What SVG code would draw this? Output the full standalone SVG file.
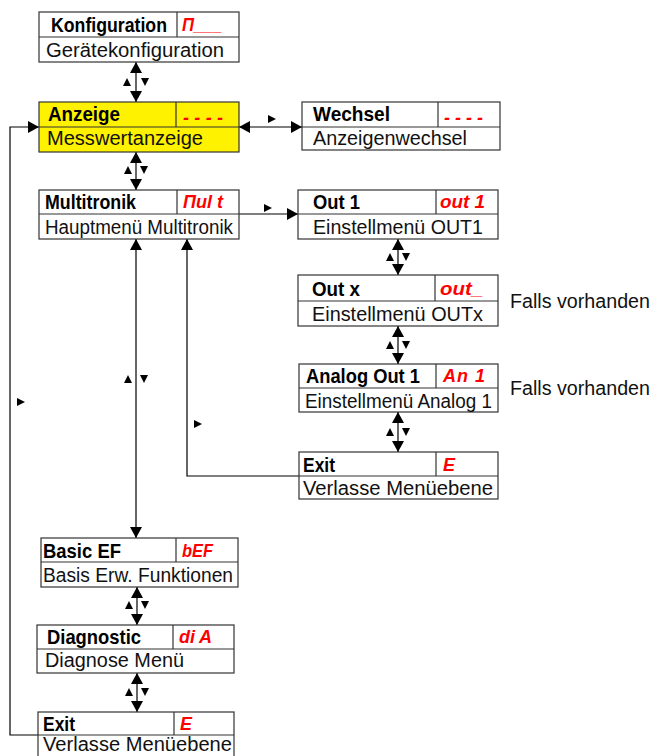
<svg xmlns="http://www.w3.org/2000/svg" xmlns:xlink="http://www.w3.org/1999/xlink" width="654" height="756" viewBox="0 0 654 756">
<style>
  .box{fill:#ffffff;stroke:#333333;stroke-width:1.2}
  .yel{fill:#fff200}
  .div{stroke:#333333;stroke-width:1.2;fill:none}
  .t{font-family:"Liberation Sans",Arial,sans-serif;font-weight:bold;font-size:20.5px;fill:#000}
  .s{font-family:"Liberation Sans",Arial,sans-serif;font-size:19.5px;fill:#111}
  .r{font-family:"Liberation Sans",Arial,sans-serif;font-weight:bold;font-style:italic;font-size:18px;fill:#ff0000}
  .n{font-family:"Liberation Sans",Arial,sans-serif;font-size:20px;fill:#111}
  .c{stroke:#000;stroke-width:1.2;fill:none}
  .tri{fill:#000}
</style>
<defs>
  <marker id="ah" viewBox="0 0 11 12" refX="11" refY="6" markerWidth="11" markerHeight="12" markerUnits="userSpaceOnUse" orient="auto-start-reverse">
    <path d="M0,0 L11,6 L0,12 z" fill="#000"/>
  </marker>
  <path id="tr" d="M-4,-4 L4,0 L-4,4 z"/>
</defs>

<g id="connectors">
  <line class="c" x1="136" y1="62" x2="136" y2="102" marker-start="url(#ah)" marker-end="url(#ah)"/>
  <use href="#tr" class="tri" transform="translate(127,82) rotate(-90)"/>
  <use href="#tr" class="tri" transform="translate(145,82) rotate(90)"/>

  <line class="c" x1="136" y1="152" x2="136" y2="190" marker-start="url(#ah)" marker-end="url(#ah)"/>
  <use href="#tr" class="tri" transform="translate(128,170) rotate(-90)"/>
  <use href="#tr" class="tri" transform="translate(144,170) rotate(90)"/>

  <line class="c" x1="136" y1="239" x2="136" y2="538" marker-start="url(#ah)" marker-end="url(#ah)"/>
  <use href="#tr" class="tri" transform="translate(128,379) rotate(-90)"/>
  <use href="#tr" class="tri" transform="translate(144,379) rotate(90)"/>

  <line class="c" x1="137" y1="587" x2="137" y2="625" marker-start="url(#ah)" marker-end="url(#ah)"/>
  <use href="#tr" class="tri" transform="translate(129,605) rotate(-90)"/>
  <use href="#tr" class="tri" transform="translate(145,605) rotate(90)"/>

  <line class="c" x1="137" y1="673" x2="137" y2="712" marker-start="url(#ah)" marker-end="url(#ah)"/>
  <use href="#tr" class="tri" transform="translate(129,692) rotate(-90)"/>
  <use href="#tr" class="tri" transform="translate(145,692) rotate(90)"/>

  <line class="c" x1="398" y1="239" x2="398" y2="275" marker-start="url(#ah)" marker-end="url(#ah)"/>
  <use href="#tr" class="tri" transform="translate(390,257) rotate(-90)"/>
  <use href="#tr" class="tri" transform="translate(406,257) rotate(90)"/>

  <line class="c" x1="398" y1="326" x2="398" y2="364" marker-start="url(#ah)" marker-end="url(#ah)"/>
  <use href="#tr" class="tri" transform="translate(390,345) rotate(-90)"/>
  <use href="#tr" class="tri" transform="translate(406,345) rotate(90)"/>

  <line class="c" x1="398" y1="412" x2="398" y2="452" marker-start="url(#ah)" marker-end="url(#ah)"/>
  <use href="#tr" class="tri" transform="translate(390,432) rotate(-90)"/>
  <use href="#tr" class="tri" transform="translate(406,432) rotate(90)"/>

  <line class="c" x1="239" y1="127" x2="302" y2="127" marker-start="url(#ah)" marker-end="url(#ah)"/>
  <use href="#tr" class="tri" transform="translate(272,119)"/>

  <line class="c" x1="239" y1="214" x2="298" y2="214" marker-end="url(#ah)"/>
  <use href="#tr" class="tri" transform="translate(268,208)"/>

  <polyline class="c" points="299,476 187,476 187,239" marker-end="url(#ah)"/>
  <use href="#tr" class="tri" transform="translate(198,424)"/>

  <polyline class="c" points="38,735 10,735 10,127 39,127" marker-end="url(#ah)"/>
  <use href="#tr" class="tri" transform="translate(21,402)"/>
</g>

<g id="konfiguration">
  <rect class="box" x="39" y="12" width="200" height="50"/>
  <line class="div" x1="39" y1="37" x2="239" y2="37"/>
  <line class="div" x1="177" y1="12" x2="177" y2="37"/>
  <text class="t" x="51" y="32" textLength="116" lengthAdjust="spacingAndGlyphs">Konfiguration</text>
  <text class="r" x="182" y="31" textLength="40" lengthAdjust="spacingAndGlyphs">Π___</text>
  <text class="s" x="46" y="57" textLength="178" lengthAdjust="spacingAndGlyphs">Gerätekonfiguration</text>
</g>

<g id="anzeige">
  <rect class="box yel" x="39" y="102" width="200" height="50"/>
  <line class="div" x1="39" y1="127" x2="239" y2="127"/>
  <line class="div" x1="176" y1="102" x2="176" y2="127"/>
  <text class="t" x="48" y="121" textLength="72" lengthAdjust="spacingAndGlyphs">Anzeige</text>
  <text class="r" x="183" y="124" textLength="40" lengthAdjust="spacing">----</text>
  <text class="s" x="47" y="145" textLength="156" lengthAdjust="spacingAndGlyphs">Messwertanzeige</text>
</g>

<g id="wechsel">
  <rect class="box" x="302" y="102" width="198" height="48"/>
  <line class="div" x1="302" y1="127" x2="500" y2="127"/>
  <line class="div" x1="438" y1="102" x2="438" y2="127"/>
  <text class="t" x="313" y="121" textLength="77" lengthAdjust="spacingAndGlyphs">Wechsel</text>
  <text class="r" x="444" y="124" textLength="39" lengthAdjust="spacing">----</text>
  <text class="s" x="313" y="145" textLength="154" lengthAdjust="spacingAndGlyphs">Anzeigenwechsel</text>
</g>

<g id="multitronik">
  <rect class="box" x="39" y="190" width="200" height="49"/>
  <line class="div" x1="39" y1="214" x2="239" y2="214"/>
  <line class="div" x1="177" y1="190" x2="177" y2="214"/>
  <text class="t" x="45" y="209" textLength="91" lengthAdjust="spacingAndGlyphs">Multitronik</text>
  <text class="r" x="183" y="208" textLength="40" lengthAdjust="spacingAndGlyphs">Πul t</text>
  <text class="s" x="45" y="234" textLength="188" lengthAdjust="spacingAndGlyphs">Hauptmenü Multitronik</text>
</g>

<g id="out1">
  <rect class="box" x="298" y="190" width="200" height="49"/>
  <line class="div" x1="298" y1="214" x2="498" y2="214"/>
  <line class="div" x1="436" y1="190" x2="436" y2="214"/>
  <text class="t" x="313" y="209" textLength="47" lengthAdjust="spacingAndGlyphs">Out 1</text>
  <text class="r" x="440" y="208" textLength="45" lengthAdjust="spacingAndGlyphs">out 1</text>
  <text class="s" x="313" y="234" textLength="170" lengthAdjust="spacingAndGlyphs">Einstellmenü OUT1</text>
</g>

<g id="outx">
  <rect class="box" x="298" y="275" width="200" height="51"/>
  <line class="div" x1="298" y1="301" x2="498" y2="301"/>
  <line class="div" x1="435" y1="275" x2="435" y2="301"/>
  <text class="t" x="312" y="296" textLength="48" lengthAdjust="spacingAndGlyphs">Out x</text>
  <text class="r" x="440" y="295" textLength="43" lengthAdjust="spacingAndGlyphs">out_</text>
  <text class="s" x="312" y="321" textLength="171" lengthAdjust="spacingAndGlyphs">Einstellmenü OUTx</text>
</g>
<text id="falls1" class="n" x="510" y="308" textLength="140" lengthAdjust="spacingAndGlyphs">Falls vorhanden</text>

<g id="analog">
  <rect class="box" x="299" y="364" width="199" height="48"/>
  <line class="div" x1="299" y1="388" x2="498" y2="388"/>
  <line class="div" x1="436" y1="364" x2="436" y2="388"/>
  <text class="t" x="306" y="383" textLength="114" lengthAdjust="spacingAndGlyphs">Analog Out 1</text>
  <text class="r" x="443" y="382" textLength="42" lengthAdjust="spacing">An  1</text>
  <text class="s" x="305" y="408" textLength="187" lengthAdjust="spacingAndGlyphs">Einstellmenü Analog 1</text>
</g>
<text id="falls2" class="n" x="510" y="395" textLength="140" lengthAdjust="spacingAndGlyphs">Falls vorhanden</text>

<g id="exit1">
  <rect class="box" x="299" y="452" width="199" height="47"/>
  <line class="div" x1="299" y1="476" x2="498" y2="476"/>
  <line class="div" x1="436" y1="452" x2="436" y2="476"/>
  <text class="t" x="303" y="472" textLength="32" lengthAdjust="spacingAndGlyphs">Exit</text>
  <text class="r" x="443" y="471">E</text>
  <text class="s" x="303" y="495" textLength="190" lengthAdjust="spacingAndGlyphs">Verlasse Menüebene</text>
</g>

<g id="basicef">
  <rect class="box" x="41" y="538" width="197" height="49"/>
  <line class="div" x1="41" y1="562" x2="238" y2="562"/>
  <line class="div" x1="176" y1="538" x2="176" y2="562"/>
  <text class="t" x="43" y="558" textLength="78" lengthAdjust="spacingAndGlyphs">Basic EF</text>
  <text class="r" x="182" y="557" textLength="31" lengthAdjust="spacingAndGlyphs">bEF</text>
  <text class="s" x="43" y="582" textLength="190" lengthAdjust="spacingAndGlyphs">Basis Erw. Funktionen</text>
</g>

<g id="diagnostic">
  <rect class="box" x="37" y="625" width="197" height="48"/>
  <line class="div" x1="37" y1="649" x2="234" y2="649"/>
  <line class="div" x1="173" y1="625" x2="173" y2="649"/>
  <text class="t" x="47" y="644" textLength="94" lengthAdjust="spacingAndGlyphs">Diagnostic</text>
  <text class="r" x="179" y="643" textLength="33" lengthAdjust="spacing">di A</text>
  <text class="s" x="45" y="667" textLength="139" lengthAdjust="spacingAndGlyphs">Diagnose Menü</text>
</g>

<g id="exit2">
  <rect class="box" x="38" y="712" width="196" height="48"/>
  <line class="div" x1="38" y1="735" x2="234" y2="735"/>
  <line class="div" x1="174" y1="712" x2="174" y2="735"/>
  <text class="t" x="43" y="731" textLength="32" lengthAdjust="spacingAndGlyphs">Exit</text>
  <text class="r" x="180" y="730">E</text>
  <text class="s" x="43" y="751" font-size="19" textLength="189" lengthAdjust="spacingAndGlyphs">Verlasse Menüebene</text>
</g>
</svg>
